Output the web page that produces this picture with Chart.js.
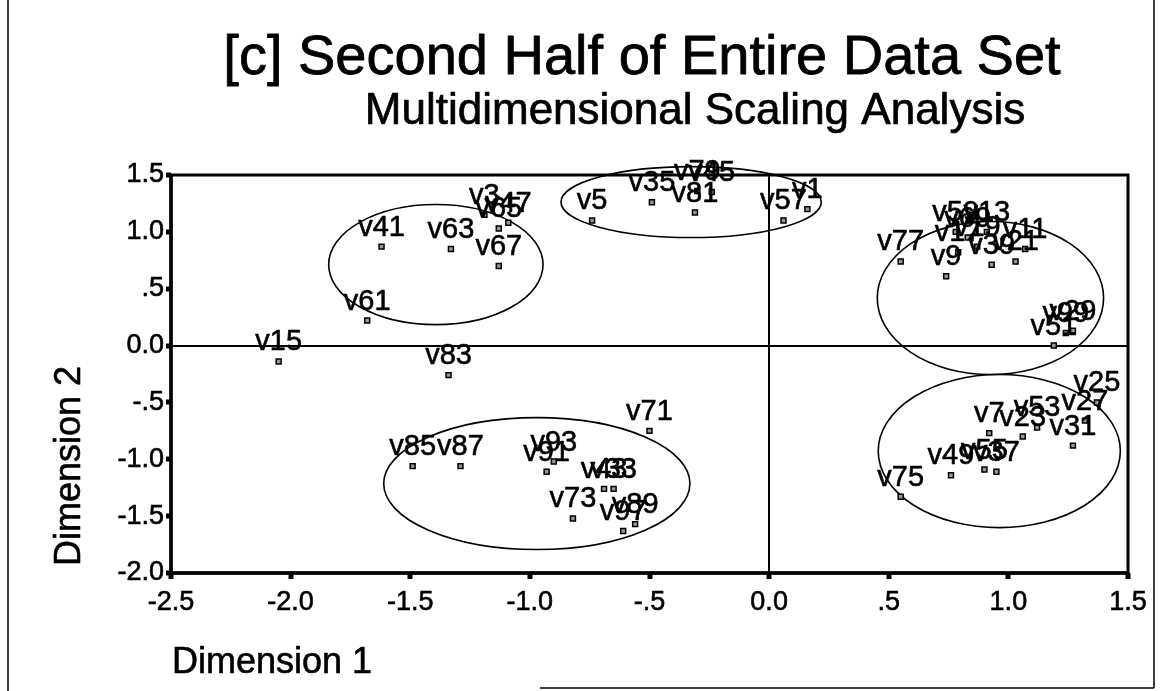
<!DOCTYPE html>
<html>
<head>
<meta charset="utf-8">
<script src="https://cdn.jsdelivr.net/npm/chart.js@4/dist/chart.umd.min.js"></script>
<style>
  html, body { margin: 0; padding: 0; background: #fff; }
  #wrap { width: 1160px; height: 691px; position: relative; }
</style>
</head>
<body>
<div id="wrap"><canvas id="c" width="1160" height="691"></canvas></div>
<script>
const chartTitle = "[c] Second Half of Entire Data Set";
const chartSubtitle = "Multidimensional Scaling Analysis";
const xAxisTitle = "Dimension 1";
const yAxisTitle = "Dimension 2";

const pointLabels = ["v3","v65","v47","v41","v63","v67","v61","v15","v83",
  "v5","v35","v81","v79","v45","v57","v1",
  "v77","v9","v59","v69","v13","v19","v17","v11","v39","v21","v51","v99","v29",
  "v85","v87","v93","v91","v71","v43","v33","v73","v89","v97",
  "v75","v49","v55","v37","v7","v23","v53","v31","v25","v27"];
const dim1 = [-1.19,-1.13,-1.09,-1.62,-1.33,-1.13,-1.68,-2.05,-1.34,
  -0.74,-0.49,-0.31,-0.30,-0.24,0.06,0.16,
  0.55,0.74,0.78,0.83,0.91,0.87,0.79,1.07,0.93,1.03,1.19,1.24,1.27,
  -1.49,-1.29,-0.90,-0.93,-0.50,-0.69,-0.65,-0.82,-0.56,-0.61,
  0.55,0.76,0.90,0.95,0.92,1.06,1.12,1.27,1.37,1.32];
const dim2 = [1.15,1.03,1.08,0.87,0.85,0.70,0.22,-0.14,-0.26,
  1.10,1.26,1.17,1.36,1.35,1.10,1.20,
  0.74,0.61,1.00,0.95,1.00,0.87,0.82,0.85,0.71,0.74,0.00,0.11,0.13,
  -1.06,-1.06,-1.02,-1.11,-0.75,-1.26,-1.26,-1.52,-1.57,-1.63,
  -1.33,-1.14,-1.09,-1.11,-0.77,-0.80,-0.72,-0.88,-0.50,-0.66];

const xTickLabels = ["-2.5","-2.0","-1.5","-1.0","-.5","0.0",".5","1.0","1.5"];
const yTickLabels = ["-2.0","-1.5","-1.0","-.5","0.0",".5","1.0","1.5"];

// cluster ellipses: centre and radii in data units
const ellipseCx = [-1.393, -0.326, 0.925, -0.971, 0.962];
const ellipseCy = [0.712, 1.262, 0.418, -1.214, -0.928];
const ellipseRx = [0.448, 0.544, 0.473, 0.640, 0.506];
const ellipseRy = [0.528, 0.312, 0.673, 0.580, 0.673];

const FONT = "'Liberation Sans', Arial, Helvetica, sans-serif";

const points = dim1.map((x, i) => ({x: x, y: dim2[i]}));

function heavyText(ctx, txt, x, y, w) {
  ctx.lineWidth = w;
  ctx.strokeText(txt, x, y);
  ctx.fillText(txt, x, y);
}

const decorPlugin = {
  id: 'decor',
  beforeDatasetsDraw(chart) {
    const ctx = chart.ctx, a = chart.chartArea;
    const xs = chart.scales.x, ys = chart.scales.y;
    ctx.save();
    ctx.strokeStyle = '#000';
    ctx.lineWidth = 3;
    ctx.strokeRect(a.left, a.top, a.right - a.left, a.bottom - a.top);
    ctx.lineWidth = 3.5;
    ctx.beginPath();
    ctx.moveTo(a.left, a.top); ctx.lineTo(a.left, a.bottom + 2);
    ctx.moveTo(a.left - 2, a.bottom); ctx.lineTo(a.right, a.bottom);
    ctx.stroke();
    ctx.lineWidth = 1.6;
    for (let i = 0; i < ellipseCx.length; i++) {
      const cx = xs.getPixelForValue(ellipseCx[i]);
      const cy = ys.getPixelForValue(ellipseCy[i]);
      const rx = Math.abs(xs.getPixelForValue(ellipseCx[i] + ellipseRx[i]) - cx);
      const ry = Math.abs(ys.getPixelForValue(ellipseCy[i] + ellipseRy[i]) - cy);
      ctx.beginPath();
      ctx.ellipse(cx, cy, rx, ry, 0, 0, Math.PI * 2);
      ctx.stroke();
    }
    ctx.restore();
  },
  afterDatasetsDraw(chart) {
    const ctx = chart.ctx;
    const meta = chart.getDatasetMeta(0);
    ctx.save();
    ctx.fillStyle = '#000';
    ctx.strokeStyle = '#000';
    ctx.lineJoin = 'round';
    ctx.font = '29px ' + FONT;
    ctx.textAlign = 'center';
    ctx.textBaseline = 'alphabetic';
    meta.data.forEach((el, i) => {
      heavyText(ctx, pointLabels[i], el.x, el.y - 11, 0.6);
    });
    ctx.font = '56px ' + FONT;
    heavyText(ctx, chartTitle, 642, 74, 0.8);
    ctx.font = '44px ' + FONT;
    heavyText(ctx, chartSubtitle, 695, 124, 0.7);
    ctx.font = '36px ' + FONT;
    ctx.textAlign = 'left';
    heavyText(ctx, xAxisTitle, 172, 673, 0.6);
    ctx.save();
    ctx.translate(80, 466);
    ctx.rotate(-Math.PI / 2);
    ctx.textAlign = 'center';
    heavyText(ctx, yAxisTitle, 0, 0, 0.6);
    ctx.restore();
    ctx.lineWidth = 1.5;
    ctx.beginPath();
    ctx.moveTo(8, 0); ctx.lineTo(8, 691);
    ctx.moveTo(1154, 0); ctx.lineTo(1154, 688);
    ctx.moveTo(540, 688); ctx.lineTo(1154, 688);
    ctx.stroke();
    ctx.restore();
  }
};

new Chart(document.getElementById('c'), {
  type: 'scatter',
  data: {
    datasets: [{
      label: 'MDS',
      data: points,
      pointStyle: 'rect',
      pointRadius: 3.5,
      pointHoverRadius: 3.5,
      backgroundColor: '#999',
      borderColor: '#000',
      borderWidth: 1.5
    }]
  },
  options: {
    responsive: false,
    animation: false,
    events: [],
    layout: { padding: { top: 175, right: 32, left: 71, bottom: 58 } },
    plugins: { legend: { display: false }, tooltip: { enabled: false }, title: { display: false } },
    scales: {
      x: {
        type: 'linear', min: -2.5, max: 1.5,
        afterFit(s) { s.height = 60; },
        afterBuildTicks(s) { s.ticks = xTickLabels.map(t => ({value: parseFloat(t)})); },
        ticks: {
          color: '#000', font: { family: FONT, size: 27 }, padding: 7,
          textStrokeColor: '#000', textStrokeWidth: 0.6,
          autoSkip: false, maxRotation: 0,
          callback: (v, i) => xTickLabels[i]
        },
        grid: {
          drawOnChartArea: true, drawTicks: true, tickLength: 6, tickWidth: 5, tickColor: '#000',
          color: c => (c.tick && c.tick.value === 0 ? '#000' : 'rgba(0,0,0,0)'),
          lineWidth: c => (c.tick && c.tick.value === 0 ? 2 : 0)
        },
        border: { display: false }
      },
      y: {
        type: 'linear', min: -2, max: 1.5,
        afterFit(s) { s.width = 100; },
        afterBuildTicks(s) { s.ticks = yTickLabels.map(t => ({value: parseFloat(t)})); },
        ticks: {
          color: '#000', font: { family: FONT, size: 27 }, padding: 2,
          textStrokeColor: '#000', textStrokeWidth: 0.6,
          autoSkip: false,
          callback: (v, i) => yTickLabels[i]
        },
        grid: {
          drawOnChartArea: true, drawTicks: true, tickLength: 5, tickWidth: 5, tickColor: '#000',
          color: c => (c.tick && c.tick.value === 0 ? '#000' : 'rgba(0,0,0,0)'),
          lineWidth: c => (c.tick && c.tick.value === 0 ? 2 : 0)
        },
        border: { display: false }
      }
    }
  },
  plugins: [decorPlugin]
});
</script>
</body>
</html>
